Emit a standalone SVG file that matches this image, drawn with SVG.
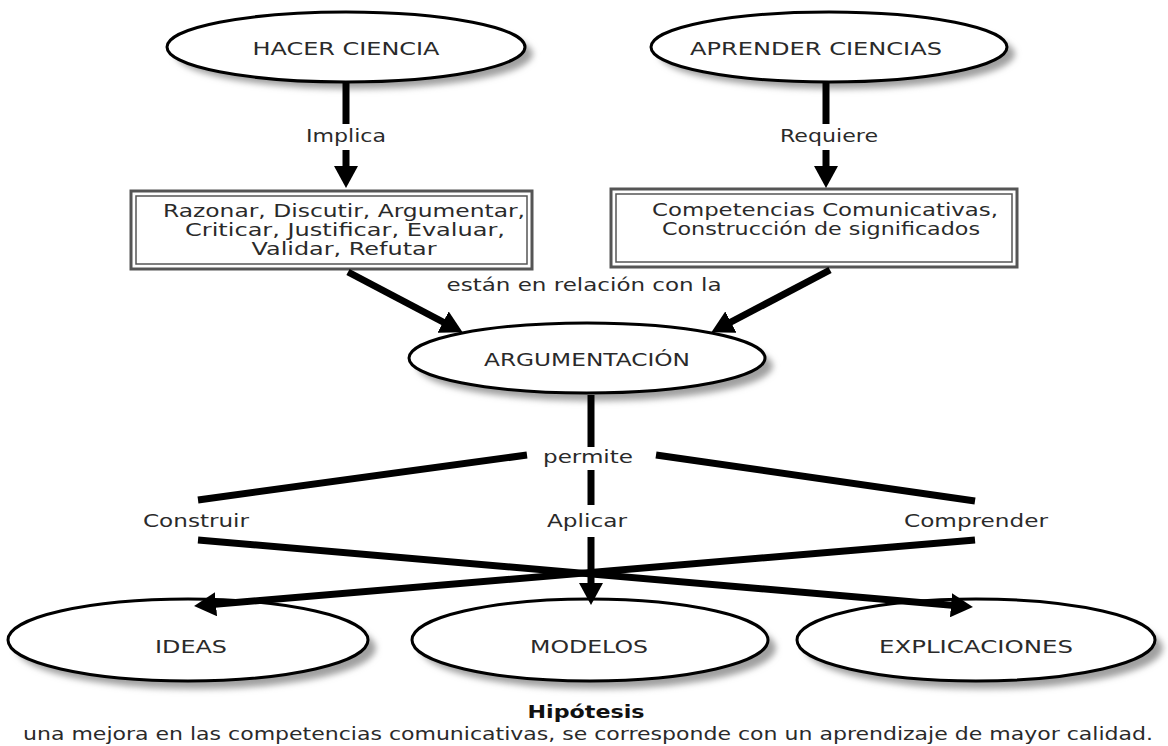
<svg xmlns="http://www.w3.org/2000/svg" width="1168" height="746" viewBox="0 0 1168 746">
<style>
.bg{fill:#fff}
.ell{fill:#fff;stroke:#000;stroke-width:3}
.shd{fill:#a0a0a0;filter:url(#blur)}
.box-o{fill:#fff;stroke:#555;stroke-width:3}
.box-i{fill:none;stroke:#555;stroke-width:1.5}
.t{font-family:"DejaVu Sans",Verdana,sans-serif;font-size:18px;fill:#2a2a2a;text-anchor:middle}
.b{font-weight:bold;fill:#111}
.c{stroke:#000;stroke-width:7;fill:none}
</style>
<defs>
<filter id="blur" x="-10%" y="-20%" width="120%" height="140%"><feGaussianBlur stdDeviation="3"/></filter>
<marker id="ah" markerUnits="userSpaceOnUse" markerWidth="22" markerHeight="24" viewBox="0 0 22 24" refX="1" refY="12" orient="auto"><path d="M0,0 L22,12 L0,24 z" fill="#000"/></marker>
</defs>
<rect class="bg" width="1168" height="746"/>

<g id="hacer-ciencia">
<ellipse class="shd" cx="354" cy="54" rx="179" ry="35"/>
<ellipse class="ell" cx="346" cy="47" rx="179" ry="35"/>
<text class="t" x="346" y="55" textLength="187" lengthAdjust="spacingAndGlyphs">HACER CIENCIA</text>
</g>

<g id="aprender-ciencias">
<ellipse class="shd" cx="837" cy="54" rx="178" ry="35"/>
<ellipse class="ell" cx="829" cy="47" rx="178" ry="35"/>
<text class="t" x="816" y="55" textLength="252" lengthAdjust="spacingAndGlyphs">APRENDER CIENCIAS</text>
</g>

<g id="box-razonar">
<rect class="box-o" x="131" y="191" width="401" height="78"/>
<rect class="box-i" x="136" y="196" width="391" height="68"/>
<text class="t" x="344" y="217" textLength="362" lengthAdjust="spacingAndGlyphs">Razonar, Discutir, Argumentar,</text>
<text class="t" x="345" y="236" textLength="320" lengthAdjust="spacingAndGlyphs">Criticar, Justificar, Evaluar,</text>
<text class="t" x="344" y="255" textLength="185" lengthAdjust="spacingAndGlyphs">Validar, Refutar</text>
</g>

<g id="box-competencias">
<rect class="box-o" x="611" y="189" width="406" height="78"/>
<rect class="box-i" x="616" y="194" width="396" height="68"/>
<text class="t" x="825" y="216" textLength="346" lengthAdjust="spacingAndGlyphs">Competencias Comunicativas,</text>
<text class="t" x="821" y="235" textLength="318" lengthAdjust="spacingAndGlyphs">Construcción de significados</text>
</g>

<g id="argumentacion">
<ellipse class="shd" cx="595" cy="366" rx="178" ry="35"/>
<ellipse class="ell" cx="587" cy="358" rx="178" ry="35"/>
<text class="t" x="587" y="366" textLength="206" lengthAdjust="spacingAndGlyphs">ARGUMENTACIÓN</text>
</g>

<g id="ideas">
<ellipse class="shd" cx="196" cy="648" rx="180" ry="41"/>
<ellipse class="ell" cx="188" cy="640" rx="180" ry="41"/>
<text class="t" x="191" y="653" textLength="72" lengthAdjust="spacingAndGlyphs">IDEAS</text>
</g>

<g id="modelos">
<ellipse class="shd" cx="598" cy="648" rx="178" ry="41"/>
<ellipse class="ell" cx="590" cy="640" rx="178" ry="41"/>
<text class="t" x="589" y="653" textLength="118" lengthAdjust="spacingAndGlyphs">MODELOS</text>
</g>

<g id="explicaciones">
<ellipse class="shd" cx="984" cy="648" rx="179" ry="41"/>
<ellipse class="ell" cx="976" cy="640" rx="179" ry="41"/>
<text class="t" x="976" y="653" textLength="194" lengthAdjust="spacingAndGlyphs">EXPLICACIONES</text>
</g>

<g id="connectors">
<line class="c" x1="346" y1="82" x2="346" y2="124"/>
<line class="c" x1="346" y1="150" x2="346" y2="167" marker-end="url(#ah)"/>
<line class="c" x1="826" y1="82" x2="826" y2="124"/>
<line class="c" x1="826" y1="150" x2="826" y2="167" marker-end="url(#ah)"/>
<line class="c" x1="348" y1="272" x2="444" y2="322.5" marker-end="url(#ah)"/>
<line class="c" x1="830" y1="270" x2="730" y2="322.5" marker-end="url(#ah)"/>
<line class="c" x1="591" y1="395" x2="591" y2="447"/>
<line class="c" x1="591" y1="470" x2="591" y2="505"/>
<line class="c" x1="591" y1="537" x2="591" y2="584" marker-end="url(#ah)"/>
<line class="c" x1="527" y1="455" x2="198" y2="500"/>
<line class="c" x1="656" y1="455" x2="975" y2="501"/>
<line class="c" x1="198" y1="540" x2="952" y2="605.3" marker-end="url(#ah)"/>
<line class="c" x1="975" y1="540" x2="215" y2="604.3" marker-end="url(#ah)"/>
<text class="t" x="346" y="142" textLength="80" lengthAdjust="spacingAndGlyphs">Implica</text>
<text class="t" x="829" y="142" textLength="98" lengthAdjust="spacingAndGlyphs">Requiere</text>
<text class="t" x="584" y="291" textLength="275" lengthAdjust="spacingAndGlyphs">están en relación con la</text>
<text class="t" x="588" y="463" textLength="90" lengthAdjust="spacingAndGlyphs">permite</text>
<text class="t" x="196" y="527" textLength="106" lengthAdjust="spacingAndGlyphs">Construir</text>
<text class="t" x="587" y="527" textLength="80" lengthAdjust="spacingAndGlyphs">Aplicar</text>
<text class="t" x="976" y="527" textLength="144" lengthAdjust="spacingAndGlyphs">Comprender</text>
</g>

<g id="hipotesis">
<text class="t b" x="586" y="718" textLength="117" lengthAdjust="spacingAndGlyphs">Hipótesis</text>
<text class="t" x="588" y="740" textLength="1130" lengthAdjust="spacingAndGlyphs">una mejora en las competencias comunicativas, se corresponde con un aprendizaje de mayor calidad.</text>
</g>
</svg>
